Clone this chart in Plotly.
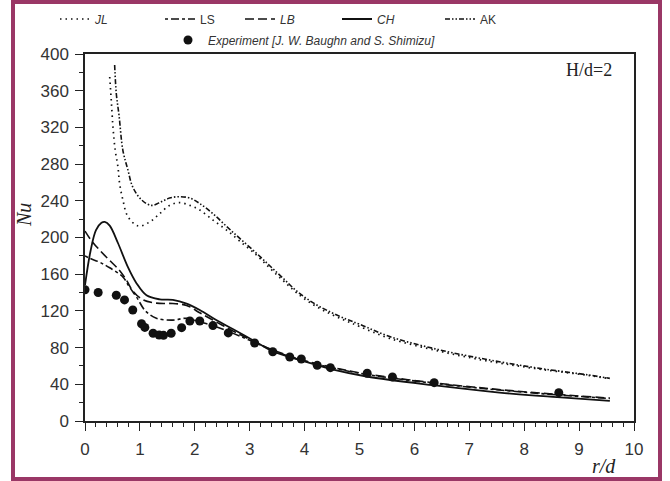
import plotly.graph_objects as go

# ---------------- data ----------------
exp_x = [0.0, 0.24, 0.57, 0.72, 0.87, 1.03, 1.09, 1.24, 1.35, 1.43, 1.57, 1.76, 1.91, 2.09,
         2.33, 2.61, 3.09, 3.42, 3.73, 3.94, 4.23, 4.47, 5.14, 5.60, 6.36, 8.63]
exp_nu = [143, 140, 137, 132, 121, 106, 102, 95.6, 93.7, 93.4, 95.6, 101.7, 109, 109,
          104, 96, 85, 75.5, 69.8, 67.6, 60.7, 58.1, 52, 48, 41.8, 30.9]

jl_x = [0.45, 0.48, 0.51, 0.55, 0.60, 0.63, 0.69, 0.78, 0.97, 1.18, 1.36, 1.54, 1.72, 1.91,
        2.09, 2.33, 2.58, 2.82, 3.12, 3.36, 3.61, 3.85, 4.15, 4.46, 4.76, 5.0, 5.55, 6.46,
        7.37, 8.28, 9.19, 9.56]
jl_nu = [375, 348, 320, 295, 277, 259, 241, 223, 212.5, 217, 226, 235, 238, 235,
         230, 219, 208, 196, 181, 167, 153, 140, 127, 117, 109, 103, 90, 76,
         65, 56.5, 49.5, 46]

ak_x = [0.54, 0.57, 0.62, 0.69, 0.78, 0.87, 1.03, 1.21, 1.39, 1.54, 1.72, 1.91, 2.09, 2.33,
        2.58, 2.82, 3.12, 3.36, 3.61, 3.85, 4.15, 4.46, 4.76, 5.0, 5.55, 6.46, 7.37, 8.28,
        9.19, 9.56]
ak_nu = [388, 357, 333, 295, 274, 255, 241, 235, 239, 243, 244.5, 243, 237, 226,
         212, 199, 183, 169.5, 155.5, 142, 129, 119, 111, 105.5, 92, 77.5, 66.5, 57.4,
         50, 46.5]

ch_x = [0.0, 0.1, 0.2, 0.3, 0.36, 0.45, 0.6, 0.78, 0.94, 1.12, 1.36, 1.6, 1.85, 2.09, 2.39,
        2.70, 3.09, 3.42, 3.91, 4.52, 5.13, 6.34, 7.55, 8.6, 9.56]
ch_nu = [148, 185, 208, 216, 217, 213, 194, 168, 150, 137, 132.6, 132, 128, 121, 110,
         100, 87, 76, 66.5, 56, 48.5, 39, 31, 26, 22]

lb_x = [0.0, 0.1, 0.27, 0.45, 0.63, 0.76, 0.88, 1.06, 1.3, 1.6, 1.85, 2.09, 2.39, 2.70,
        3.0, 3.4, 3.9, 4.5, 5.1, 6.3, 7.5, 8.6, 9.56]
lb_nu = [207, 198, 186, 175, 164, 153, 141, 132, 128.5, 128, 126, 118, 108, 98,
         89, 78, 67.5, 58.5, 51.5, 42, 34.5, 29, 25]

ls_x = [0.0, 0.1, 0.27, 0.45, 0.69, 0.81, 0.94, 1.1, 1.3, 1.6, 1.85, 2.09, 2.33, 2.70,
        3.0, 3.4, 3.9, 4.5, 5.1, 6.3, 7.5, 8.6, 9.56]
ls_nu = [180, 177, 173, 167, 157, 146, 135, 120, 112, 110, 112, 108, 104, 95.5,
         88, 77.5, 67, 58, 51, 41.5, 34, 28.5, 24.5]

x_ticks = [0, 1, 2, 3, 4, 5, 6, 7, 8, 9, 10]
y_ticks = [0, 40, 80, 120, 160, 200, 240, 280, 320, 360, 400]

# ---------------- layout geometry ----------------
W, H = 670, 481
ML, MR, MT, MB = 85, 36, 54, 60
PW, PH = W - ML - MR, H - MT - MB


def fx(px):
    return (px - ML) / PW


def fy(py):
    return (H - MB - py) / PH


INK = "#111111"
fig = go.Figure()

series = [
    ("<i>JL</i>", jl_x, jl_nu, dict(color=INK, width=1.7, dash="1.5px,4px"), "legend", 55),
    ("LS", ls_x, ls_nu, dict(color=INK, width=1.6, dash="3px,3px,8px,3px"), "legend2", 160),
    ("<i>LB</i>", lb_x, lb_nu, dict(color=INK, width=1.6, dash="9px,4px"), "legend3", 240),
    ("<i>CH</i>", ch_x, ch_nu, dict(color=INK, width=1.8), "legend4", 337),
    ("AK", ak_x, ak_nu, dict(color=INK, width=1.6, dash="5px,2px,1.5px,2px,1.5px,2px"), "legend5", 440),
]

legends = {}
for name, xs, ys, line, lg, lx in series:
    fig.add_trace(go.Scatter(x=xs, y=ys, mode="lines", name=name, line=line,
                             line_shape="spline", legend=lg))
    legends[lg] = dict(x=fx(lx), y=fy(19), xanchor="left", yanchor="middle",
                       bgcolor="rgba(0,0,0,0)", font=dict(family="Liberation Sans", size=12, color="#333"),
                       orientation="h")

fig.add_trace(go.Scatter(x=exp_x, y=exp_nu, mode="markers",
                         name="<i>Experiment [J. W. Baughn and S. Shimizu]</i>",
                         marker=dict(color=INK, size=9), legend="legend6"))
legends["legend6"] = dict(x=fx(168), y=fy(40), xanchor="left", yanchor="middle",
                          bgcolor="rgba(0,0,0,0)", font=dict(family="Liberation Sans", size=12, color="#333"),
                          orientation="h")

axis_common = dict(showline=True, linecolor="#222", linewidth=1.5, mirror=True,
                   ticks="outside", ticklen=8, tickwidth=1.3, tickcolor="#222",
                   showgrid=False, zeroline=False,
                   tickfont=dict(family="Liberation Sans", size=17, color="#333"))

fig.update_layout(
    width=W, height=H,
    margin=dict(l=ML, r=MR, t=MT, b=MB, autoexpand=False),
    paper_bgcolor="white", plot_bgcolor="white",
    template="none",
    showlegend=True,
    xaxis=dict(range=[0, 10], tickvals=x_ticks, ticktext=[str(v) for v in x_ticks],
               minor=dict(dtick=0.2, ticks="outside", ticklen=4, tickcolor="#222", tickwidth=1),
               ticklabelstandoff=4, **axis_common),
    yaxis=dict(range=[0, 400], tickvals=y_ticks, ticktext=[str(v) for v in y_ticks],
               minor=dict(dtick=20, ticks="outside", ticklen=4, tickcolor="#222", tickwidth=1),
               ticklabelstandoff=3, **axis_common),
    **legends,
)

fig.add_annotation(x=fx(24), y=fy(215), xref="paper", yref="paper", text="<i>Nu</i>",
                   textangle=-90, showarrow=False, xanchor="center", yanchor="middle",
                   font=dict(family="Liberation Serif", size=20, color="#222"))
fig.add_annotation(x=fx(604), y=fy(466), xref="paper", yref="paper", text="<i>r/d</i>",
                   showarrow=False, xanchor="center", yanchor="middle",
                   font=dict(family="Liberation Serif", size=20, color="#222"))
fig.add_annotation(x=fx(589), y=fy(70), xref="paper", yref="paper", text="H/d=2",
                   showarrow=False, xanchor="center", yanchor="middle",
                   font=dict(family="Liberation Serif", size=18, color="#222"))

# magenta outer frame
fig.add_shape(type="rect", xref="paper", yref="paper",
              x0=fx(13), x1=fx(660), y0=fy(479), y1=fy(2),
              line=dict(color="#9a3766", width=4), fillcolor="rgba(0,0,0,0)", layer="above")

fig.write_html("out.html", config={"displayModeBar": False},
               post_script="document.body.style.margin='0';document.body.style.overflow='hidden';")
